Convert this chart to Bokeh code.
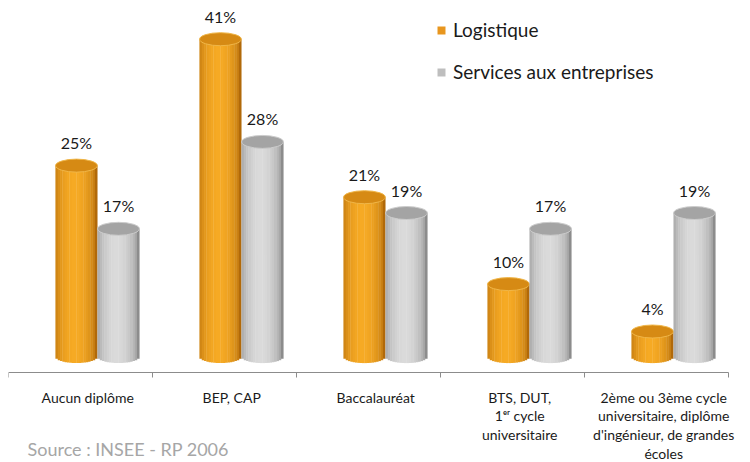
import math
from bokeh.plotting import figure
from bokeh.models import FixedTicker, Range1d, Legend, LegendItem, Label
from bokeh.embed import file_html
from bokeh.resources import INLINE
from bokeh.core.properties import value

# ---------------- data ----------------
categories = [
    "Aucun diplôme",
    "BEP, CAP",
    "Baccalauréat",
    "BTS, DUT,\n1ᵉʳ cycle\nuniversitaire",
    "2ème ou 3ème cycle\nuniversitaire, diplôme\nd'ingénieur, de grandes\nécoles",
]
series_names = ["Logistique", "Services aux entreprises"]
logistique = [25, 41, 21, 10, 4]
services = [17, 28, 19, 17, 19]
source_text = "Source : INSEE - RP 2006"

# ---------------- style ----------------
FONT = "Lato"
CW = 20                      # data units per category
NCAT = len(categories)
BW = 5.8                     # bar width (data units)
OFFS = [-0.56, 5.28]         # bar offsets from category centre
ELL_PX = 13                  # ellipse height (px)
PX_PER_UNIT = 7.9
E = ELL_PX / 2 / PX_PER_UNIT
NSTRIP = 18
AXIS_AT = -1.19              # value where the category axis is drawn

orange = dict(dark=(176, 104, 8), bright=(246, 170, 36), top=(214, 138, 20), rim=(240, 182, 72), legend="#E8961E")
grey = dict(dark=(138, 138, 138), bright=(218, 218, 218), top=(164, 164, 164), rim=(204, 204, 204), legend="#BEBEBE")

W, H = 750, 462
# frame spans x 8..750 px; 7.2 px per x unit keeps the category band 8..728
p = figure(width=W, height=H, output_backend="svg", toolbar_location=None,
           x_range=Range1d(0, CW * NCAT * 742 / 720), y_range=Range1d(-12.58, 45.9),
           y_axis_location=None,
           min_border_left=8, min_border_right=0, min_border_top=0, min_border_bottom=0)
p.outline_line_color = None
p.xgrid.visible = False
p.ygrid.visible = False
p.background_fill_color = "white"


def hexc(rgb):
    return "#%02x%02x%02x" % tuple(int(round(c)) for c in rgb)


def shade(col, u):
    t = max(0.0, math.cos((u + 0.08) * math.pi / 2.05)) ** 0.55
    return hexc([col["dark"][i] + (col["bright"][i] - col["dark"][i]) * t for i in range(3)])


def cylinders(vals, off, col):
    xs = [i * CW + CW / 2 + off for i in range(len(vals))]
    for k in range(NSTRIP):
        u = -1 + (2 * k + 1) / NSTRIP
        bottom = E - E * math.sqrt(max(0.0, 1 - u * u))
        p.vbar(x=[x + u * BW / 2 for x in xs], top=vals, bottom=bottom,
               width=BW / NSTRIP * 1.15, fill_color=shade(col, u), line_color=None)
    p.ellipse(x=xs, y=vals, width=BW, height=ELL_PX, height_units="screen",
              fill_color=hexc(col["top"]), line_color=hexc(col["rim"]), line_width=1)
    p.text(x=xs, y=vals, text=["%d%%" % v for v in vals], y_offset=-23,
           text_align="center", text_baseline="middle", text_font=value(FONT),
           text_font_size="16px", text_color="#1a1a1a")


cylinders(logistique, OFFS[0], orange)
cylinders(services, OFFS[1], grey)

# legend (proxy renderers placed far outside the visible ranges)
r1 = p.vbar(x=[-500], top=[-500], bottom=[-501], width=1, fill_color=orange["legend"], line_color=None)
r2 = p.vbar(x=[-500], top=[-500], bottom=[-501], width=1, fill_color=grey["legend"], line_color=None)
legend = Legend(items=[LegendItem(label=series_names[0], renderers=[r1]),
                       LegendItem(label=series_names[1], renderers=[r2])],
                location=(428, 379), orientation="vertical",
                glyph_width=10, glyph_height=10, label_standoff=7,
                label_text_font=FONT, label_text_font_size="19px", label_text_color="#1a1a1a",
                spacing=19, padding=0, margin=0, border_line_color=None,
                background_fill_alpha=0)
p.add_layout(legend)

# x axis, drawn at a fixed value so that the labels share the lower band with the source note
ticks = [i * CW + 11 for i in range(NCAT)]
xa = p.xaxis[0]
xa.fixed_location = AXIS_AT
xa.bounds = (0, CW * NCAT)
xa.ticker = FixedTicker(ticks=ticks, minor_ticks=[i * CW for i in range(NCAT + 1)])
xa.major_label_overrides = {t: c for t, c in zip(ticks, categories)}
xa.axis_line_color = "#8c8c8c"
xa.axis_line_width = 1.2
xa.major_tick_out = 0
xa.major_tick_in = 0
xa.minor_tick_out = 5
xa.minor_tick_in = 0
xa.minor_tick_line_color = "#8c8c8c"
xa.major_label_text_font = FONT
xa.major_label_text_font_size = "14px"
xa.major_label_text_color = "#1a1a1a"
xa.major_label_text_line_height = 1.1
xa.major_label_standoff = 11

src = Label(x=19, y=14, x_units="screen", y_units="screen", text=source_text,
            text_font=FONT, text_font_size="18px", text_color="#a6a6a6",
            text_baseline="alphabetic")
p.add_layout(src)

open("out.html", "w").write(file_html(p, INLINE))
